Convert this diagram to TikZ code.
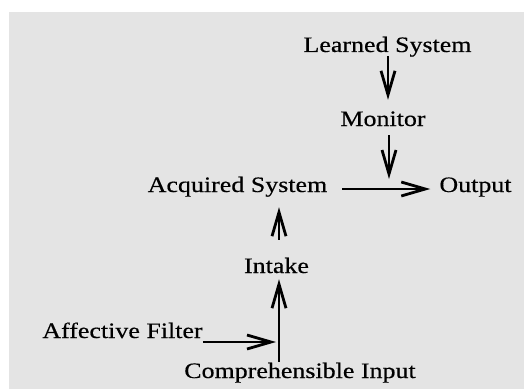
\documentclass[tikz,border=0pt]{standalone}
\usepackage{fontspec}
\setmainfont{Liberation Serif}[FakeStretch=1.18,FakeBold=0.4]
\usetikzlibrary{arrows.meta}
\definecolor{bggray}{HTML}{E4E4E4}
\begin{document}
\begin{tikzpicture}[x=1pt,y=1pt,
  lbl/.style={inner sep=0pt, anchor=base, font=\fontsize{22}{26}\selectfont, text height=15pt, text depth=4pt},
  arr/.style={line width=1.7pt, -{Straight Barb[length=24pt,width=14pt,line width=2.8pt]}}]
\useasboundingbox (0,0) rectangle (524,389);
\fill[white] (0,0) rectangle (524,389);
\fill[bggray] (9,0) rectangle (524,377);

\node[lbl] (learned) at (387.5,337) {Learned System};
\node[lbl] (monitor) at (383,263) {Monitor};
\node[lbl] (acquired) at (237.5,197) {Acquired System};
\node[lbl] (output) at (475.5,197) {Output};
\node[lbl] (intake) at (276.5,116) {Intake};
\node[lbl] (affective) at (122.5,51) {Affective Filter};
\node[lbl] (comp) at (300,11) {Comprehensible Input};

% Learned -> Monitor
\draw[arr, shorten >=11pt] ([xshift=0.5pt]learned.south) -- ([xshift=0.5pt]learned.south |- monitor.north);
% Acquired -> Output
\draw[arr, shorten <=15pt, shorten >=9pt] ([yshift=3pt]acquired.base east) -- ([yshift=3pt]output.base west);
\coordinate (junction) at ([xshift=1.5pt,yshift=3pt]learned.south |- output.base);
% Monitor -> (junction)
\draw[arr, shorten <=5pt, shorten >=10pt] ([xshift=6pt]monitor.south) -- (junction);
% Intake -> Acquired
\draw[arr, shorten <=18pt, shorten >=11pt] ([xshift=2.5pt]intake.north) -- ([xshift=2.5pt]intake.north |- acquired.south);
% Comprehensible Input -> Intake
\coordinate (ctop) at ([xshift=2.5pt]intake.south);
\coordinate (cbot) at ([yshift=1pt]ctop |- comp.north);
\draw[arr, shorten >=2pt] (cbot) -- (ctop);
% Affective Filter -> line
\draw[arr, shorten >=3pt] ([yshift=-4pt]affective.base east) -- ([yshift=-4pt]ctop |- affective.base);
\end{tikzpicture}
\end{document}
